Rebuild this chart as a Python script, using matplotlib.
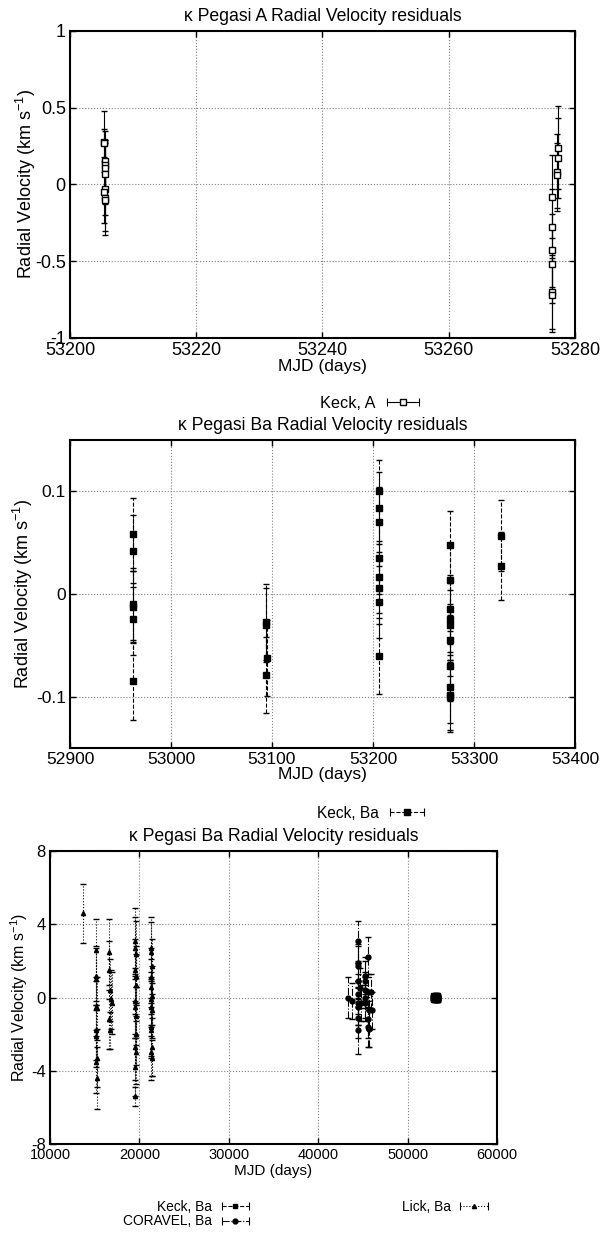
import numpy as np
import matplotlib
matplotlib.use('Agg')
import matplotlib.pyplot as plt
from matplotlib.lines import Line2D
from matplotlib.legend_handler import HandlerLine2D
from matplotlib.ticker import FuncFormatter

plt.rcParams['font.family'] = ['Liberation Sans', 'DejaVu Sans']
plt.rcParams['axes.unicode_minus'] = False
plt.rcParams['mathtext.default'] = 'regular'

# Keck, A residuals
keckA_mjd = [53205.4, 53205.4, 53205.5, 53205.5, 53205.5, 53205.6, 53205.5, 53205.4, 53205.5, 53205.6,
             53276.4, 53276.4, 53276.4, 53276.4, 53276.3, 53276.3,
             53277.3, 53277.3, 53277.2, 53277.2]
keckA_rv = [0.28, 0.27, 0.15, 0.13, 0.11, 0.07, -0.03, -0.05, -0.09, -0.10,
            -0.08, -0.28, -0.43, -0.52, -0.70, -0.72,
            0.24, 0.17, 0.08, 0.06]
keckA_err = [0.20, 0.09, 0.20, 0.16, 0.18, 0.20, 0.17, 0.20, 0.21, 0.23,
             0.27, 0.25, 0.24, 0.25, 0.24, 0.24,
             0.27, 0.26, 0.25, 0.21]

# Keck, Ba residuals
keckB_mjd = [52962.5, 52962.6, 52962.7, 52962.8, 52962.6, 52962.7,
             53094.4, 53094.5, 53094.6, 53094.5,
             53205.8, 53205.9, 53206.0, 53206.1, 53206.0, 53205.9, 53206.1, 53206.0,
             53275.8, 53275.9, 53276.0, 53276.1, 53276.2, 53276.0, 53275.9, 53276.1, 53276.0, 53276.2,
             53327.0, 53327.1]
keckB_rv = [0.058, 0.042, -0.010, -0.013, -0.024, -0.085,
            -0.027, -0.030, -0.062, -0.079,
            0.100, 0.084, 0.070, 0.035, 0.017, 0.006, -0.008, -0.060,
            0.048, 0.014, -0.015, -0.024, -0.030, -0.045, -0.070, -0.091, -0.098, -0.100,
            0.057, 0.027]
keckB_err = [0.036, 0.035, 0.035, 0.035, 0.035, 0.038,
             0.037, 0.036, 0.037, 0.037,
             0.031, 0.035, 0.034, 0.035, 0.035, 0.035, 0.035, 0.037,
             0.033, 0.034, 0.034, 0.035, 0.034, 0.035, 0.034, 0.035, 0.034, 0.034,
             0.035, 0.033]

# Lick, Ba residuals
lick_mjd = [13700,
            15100, 15150, 15200, 15200, 15250, 15150, 15200, 15250, 15200, 15250,
            16550, 16600, 16700, 16800, 16950, 16650, 16750,
            19500, 19550, 19600, 19550, 19650, 19600, 19550, 19500, 19600, 19650, 19550, 19600, 19500, 19550,
            21300, 21350, 21400, 21350, 21300, 21400, 21350, 21300, 21400, 21350, 21300, 21400, 21350, 21400]
lick_rv = [4.6,
           2.6, 1.2, 1.0, -0.5, -0.6, -1.8, -2.1, -3.3, -3.5, -4.4,
           2.5, 1.5, 0.4, -0.1, -0.3, -1.2, -1.8,
           3.1, 2.7, 2.4, 1.5, 1.2, 0.7, -0.2, -0.5, -1.0, -2.0, -2.7, -3.0, -3.8, -5.4,
           2.7, 2.5, 1.7, 1.1, 0.6, 0.1, -0.1, -0.5, -0.7, -1.6, -1.8, -2.7, -3.0, -3.3]
lick_err = [1.6,
            1.7, 1.6, 1.7, 1.6, 1.7, 1.6, 1.7, 1.6, 1.7, 1.7,
            1.8, 1.6, 1.7, 1.6, 1.7, 1.6, 1.0,
            1.8, 1.7, 1.8, 1.7, 1.6, 1.7, 1.8, 1.7, 1.6, 1.7, 1.8, 1.7, 1.6, 0.5,
            1.7, 1.6, 1.5, 1.6, 1.5, 1.6, 1.5, 1.6, 1.5, 1.6, 1.5, 1.6, 1.5, 1.0]

# CORAVEL, Ba residuals
cor_mjd = [43370, 43750, 44400, 44450, 44500, 44400, 44450, 44500, 44400, 44450, 44500, 44700, 44750,
           45200, 45250, 45200, 45250, 45200, 45550, 45600, 45650, 45600, 45550, 45650, 45950, 46000]
cor_rv = [0.0, -0.2, 3.1, 1.9, 1.7, 0.9, 0.2, -0.3, -0.5, -1.1, -1.8, 0.5, -0.3,
          1.2, 0.9, 0.4, 0.0, -0.3, 2.2, 0.3, -0.7, -1.2, -1.6, -1.7, 0.3, -0.7]
cor_err = [1.1, 1.0, 1.1, 1.0, 1.1, 1.0, 1.1, 1.2, 1.0, 1.1, 1.3, 1.1, 1.0,
           1.0, 1.1, 1.0, 1.1, 1.0, 1.1, 1.0, 1.1, 1.0, 1.1, 1.0, 1.0, 1.0]

title_A = '\u03ba Pegasi A Radial Velocity residuals'
title_B = '\u03ba Pegasi Ba Radial Velocity residuals'
ylab = 'Radial Velocity (km s$^{-1}$)'
xlab = 'MJD (days)'

fmt = FuncFormatter(lambda v, p: '%g' % v)


def style(ax, fsx, fsy):
    ax.set_axisbelow(True)
    ax.grid(True, color='0.5', ls=':', lw=0.8)
    ax.tick_params(direction='in', top=True, right=True, length=4, width=1, pad=3)
    ax.tick_params(axis='x', labelsize=fsx)
    ax.tick_params(axis='y', labelsize=fsy)
    for s in ax.spines.values():
        s.set_linewidth(1.5)
    ax.xaxis.set_major_formatter(fmt)
    ax.yaxis.set_major_formatter(fmt)


def errs(ax, x, y, e, marker, mfc, ms, ls):
    eb = ax.errorbar(x, y, yerr=e, fmt=marker, color='k', mfc=mfc, ms=ms, mew=1,
                     ecolor='k', elinewidth=0.8, capsize=2.5, capthick=0.8)
    eb[2][0].set_linestyle(ls)
    return eb


def key(marker, ls, mfc, ms):
    bar = Line2D([], [], color='k', lw=0.8, ls=ls, marker='|', ms=6, mew=0.8)
    pt = Line2D([], [], color='k', ls='none', marker=marker, mfc=mfc, ms=ms, mew=1)
    return (bar, pt), {bar: HandlerLine2D(numpoints=2), pt: HandlerLine2D(numpoints=1)}


fig = plt.figure(figsize=(6.04, 12.34), dpi=100)
ax1 = fig.add_axes([0.1159, 0.7261, 0.836, 0.2488])
ax2 = fig.add_axes([0.1159, 0.3938, 0.836, 0.2496])
ax3 = fig.add_axes([0.0828, 0.0729, 0.740, 0.2375])

# panel 1
errs(ax1, keckA_mjd, keckA_rv, keckA_err, 's', 'white', 4.5, '-')
ax1.set_xlim(53200, 53280)
ax1.set_ylim(-1, 1)
ax1.set_xticks(np.arange(53200, 53281, 20))
ax1.set_yticks([-1, -0.5, 0, 0.5, 1])
style(ax1, 13, 13)
ax1.set_title(title_A, fontsize=12.7, pad=7)
ax1.set_xlabel(xlab, fontsize=12.5, labelpad=0)
ax1.set_ylabel(ylab, fontsize=13)
ax1.yaxis.set_label_coords(-0.064, 0.5)

# panel 2
errs(ax2, keckB_mjd, keckB_rv, keckB_err, 's', 'k', 4.5, '--')
ax2.set_xlim(52900, 53400)
ax2.set_ylim(-0.15, 0.15)
ax2.set_xticks(np.arange(52900, 53401, 100))
ax2.set_yticks([-0.1, 0, 0.1])
style(ax2, 12.5, 12.5)
ax2.set_title(title_B, fontsize=12.7, pad=7)
ax2.set_xlabel(xlab, fontsize=12.5, labelpad=0)
ax2.set_ylabel(ylab, fontsize=13)
ax2.yaxis.set_label_coords(-0.07, 0.5)

# panel 3
errs(ax3, keckB_mjd, keckB_rv, keckB_err, 's', 'k', 5, '--')
errs(ax3, cor_mjd, cor_rv, cor_err, 'o', 'k', 3.5, '-.')
errs(ax3, lick_mjd, lick_rv, lick_err, '^', 'k', 3, ':')
ax3.set_xlim(10000, 60000)
ax3.set_ylim(-8, 8)
ax3.set_xticks(np.arange(10000, 60001, 10000))
ax3.set_yticks([-8, -4, 0, 4, 8])
style(ax3, 10.5, 12)
ax3.set_title(title_B, fontsize=12.7, pad=7)
ax3.set_xlabel(xlab, fontsize=11, labelpad=1)
ax3.set_ylabel(ylab, fontsize=11.5)
ax3.yaxis.set_label_coords(-0.045, 0.5)

# keys
h, hm = key('s', '-', 'white', 4)
fig.legend([h], ['Keck, A'], loc='center', bbox_to_anchor=(0.616, 0.6734), frameon=False,
           markerfirst=False, handler_map=hm, fontsize=11.7, handlelength=2.6,
           handletextpad=0.4, borderpad=0)

h, hm = key('s', '--', 'k', 4)
fig.legend([h], ['Keck, Ba'], loc='center', bbox_to_anchor=(0.618, 0.341), frameon=False,
           markerfirst=False, handler_map=hm, fontsize=11.2, handlelength=2.8,
           handletextpad=0.4, borderpad=0)

h1, hm1 = key('s', '--', 'k', 3.5)
h2, hm2 = key('o', '-.', 'k', 3.5)
h3, hm3 = key('^', ':', 'k', 3)
hm1.update(hm2)
hm1.update(hm3)
fig.legend([h1, h2, h3], ['Keck, Ba', 'CORAVEL, Ba', 'Lick, Ba'], loc='center',
           bbox_to_anchor=(0.509, 0.0162), frameon=False, ncol=2, markerfirst=False,
           handler_map=hm1, fontsize=9.9, handlelength=2.6, handletextpad=0.4,
           labelspacing=0.05, columnspacing=10.8, borderpad=0)

fig.savefig('out.png', dpi=100)
